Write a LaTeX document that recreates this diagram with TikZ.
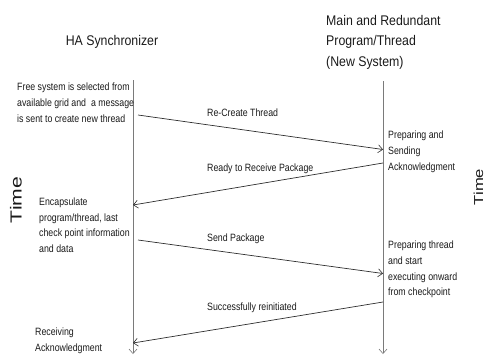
\documentclass[tikz,border=0pt]{standalone}
\usepackage{fontspec}
\setmainfont{Liberation Sans}[FakeStretch=0.88]
\newfontfamily\bodyfont{Liberation Sans}[FakeStretch=0.83]
\newfontfamily\timefont{Liberation Sans}
\usetikzlibrary{arrows.meta}
\definecolor{ink}{HTML}{1A1A1A}
\definecolor{msgline}{HTML}{2E2E2E}
\definecolor{lifeline}{HTML}{7A7A7A}
\tikzset{
  txt/.style={inner sep=0pt, anchor=north west, align=left, text=ink,
    font=\bodyfont\fontsize{10.6}{15.7}\selectfont},
  title/.style={inner sep=0pt, text=ink, align=left,
    font=\fontsize{14}{20.5}\selectfont},
  msg/.style={draw=msgline, line width=0.7pt,
    -{Straight Barb[length=4.5pt,width=8pt,line width=0.6pt]}},
  life/.style={draw=lifeline, line width=0.8pt,
    -{Straight Barb[length=4.5pt,width=8pt,line width=0.6pt]}},
  axis/.style={inner sep=0pt, text=ink, rotate=90}
}
\begin{document}
\begin{tikzpicture}[x=1pt, y=-1pt]
  \useasboundingbox (0,0) rectangle (485,354);

  % column headings
  \node[title, anchor=north] (hsync) at (112,35) {HA Synchronizer};
  \node[title, anchor=north west] (newsys) at (326,15)
    {Main and Redundant\\Program/Thread\\(New System)};

  % lifelines
  \coordinate (lt) at (133,80);
  \coordinate (lb) at (133,354);
  \coordinate (rt) at (383,81);
  \coordinate (rb) at (383,354);
  \draw[life] (lt) -- (lb);
  \draw[life] (rt) -- (rb);

  % message end points
  \coordinate (m1a) at (138,115);  \coordinate (m1b) at (383,149.5);
  \coordinate (m2a) at (383,163);  \coordinate (m2b) at (133,205);
  \coordinate (m3a) at (138,240);  \coordinate (m3b) at (383,273.5);
  \coordinate (m4a) at (383,302);  \coordinate (m4b) at (133,343);

  \draw[msg] (m1a) -- (m1b);
  \draw[msg] (m2a) -- (m2b);
  \draw[msg] (m3a) -- (m3b);
  \draw[msg] (m4a) -- (m4b);

  % message labels
  \node[txt] (l1) at (207,108.5) {Re-Create Thread};
  \node[txt] (l2) at (207,163.5) {Ready to Receive Package};
  \node[txt] (l3) at (207,233.5) {Send Package};
  \node[txt] (l4) at (207,302.5) {Successfully reinitiated};

  % synchronizer side notes
  \node[txt] (n1) at (17,83)
    {Free system is selected from\\available grid and\ \ a message\\is sent to create new thread};
  \node[txt] (n2) at (39,197.5)
    {Encapsulate\\program/thread, last\\check point information\\and data};
  \node[txt] (n3) at (35,328) {Receiving\\Acknowledgment};

  % new system side notes
  \node[txt] (n4) at (388,131) {Preparing and\\Sending\\Acknowledgment};
  \node[txt] (n5) at (388,241)
    {Preparing thread\\and start\\executing onward\\from checkpoint};

  % time axis labels
  \node[axis] (tl) at (16,200)
    {\timefont\fontsize{16}{16}\selectfont\scalebox{1.32}[1]{Time}};
  \node[axis] (tr) at (478.5,187)
    {\timefont\fontsize{13}{13}\selectfont\scalebox{1.28}[1]{Time}};
\end{tikzpicture}
\end{document}
